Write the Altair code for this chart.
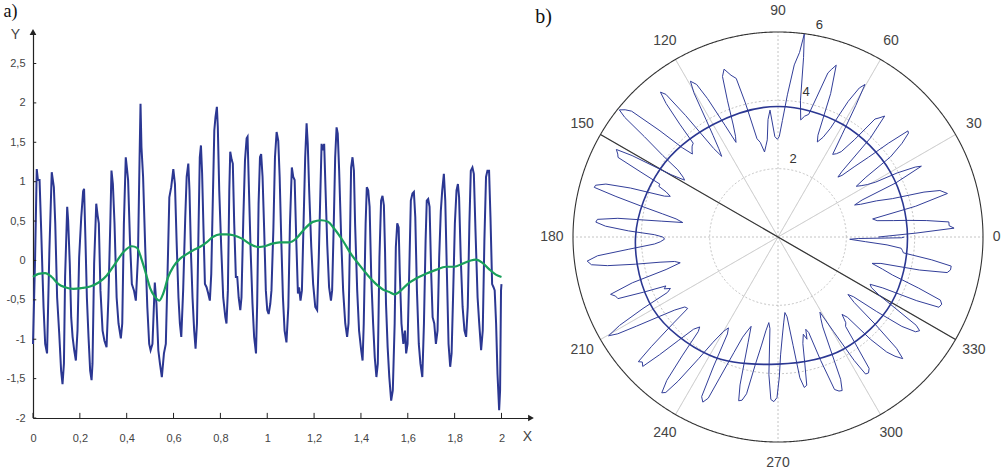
import altair as alt
import pandas as pd

# ---------------- data ----------------
SIG_X = [
    0.000, 0.009, 0.016, 0.021, 0.028, 0.035, 0.041, 0.045, 0.052, 0.060,
    0.070, 0.080, 0.089, 0.095, 0.103, 0.112, 0.120, 0.126, 0.132, 0.137,
    0.146, 0.150, 0.157, 0.163, 0.169, 0.176, 0.183, 0.190, 0.197, 0.206,
    0.214, 0.218, 0.224, 0.230, 0.237, 0.244, 0.250, 0.254, 0.261, 0.270,
    0.276, 0.281, 0.288, 0.297, 0.305, 0.314, 0.322, 0.330, 0.335, 0.341,
    0.348, 0.357, 0.365, 0.375, 0.381, 0.388, 0.396, 0.402, 0.406, 0.414,
    0.422, 0.431, 0.439, 0.448, 0.455, 0.459, 0.463, 0.470, 0.479, 0.488,
    0.496, 0.502, 0.510, 0.520, 0.527, 0.535, 0.542, 0.550, 0.559, 0.567,
    0.576, 0.582, 0.590, 0.599, 0.606, 0.613, 0.621, 0.627, 0.633, 0.641,
    0.650, 0.656, 0.663, 0.668, 0.675, 0.681, 0.688, 0.694, 0.700, 0.707,
    0.712, 0.717, 0.722, 0.728, 0.734, 0.741, 0.748, 0.755, 0.761, 0.767,
    0.774, 0.779, 0.785, 0.789, 0.795, 0.804, 0.812, 0.821, 0.826, 0.832,
    0.838, 0.842, 0.848, 0.853, 0.859, 0.866, 0.872, 0.878, 0.885, 0.890,
    0.898, 0.905, 0.912, 0.916, 0.922, 0.929, 0.937, 0.944, 0.952, 0.957,
    0.963, 0.969, 0.974, 0.980, 0.987, 0.994, 1.000, 1.006, 1.013, 1.018,
    1.026, 1.033, 1.040, 1.047, 1.053, 1.060, 1.067, 1.074, 1.082, 1.090,
    1.097, 1.105, 1.111, 1.117, 1.124, 1.131, 1.136, 1.142, 1.148, 1.155,
    1.162, 1.168, 1.173, 1.179, 1.188, 1.196, 1.205, 1.213, 1.220, 1.227,
    1.232, 1.237, 1.243, 1.249, 1.256, 1.264, 1.272, 1.277, 1.284, 1.290,
    1.296, 1.301, 1.307, 1.316, 1.324, 1.333, 1.341, 1.347, 1.353, 1.358,
    1.364, 1.370, 1.375, 1.384, 1.392, 1.401, 1.407, 1.412, 1.420, 1.425,
    1.431, 1.437, 1.444, 1.452, 1.459, 1.466, 1.472, 1.479, 1.486, 1.492,
    1.498, 1.503, 1.507, 1.514, 1.521, 1.529, 1.536, 1.544, 1.549, 1.555,
    1.561, 1.566, 1.573, 1.581, 1.588, 1.593, 1.599, 1.606, 1.613, 1.620,
    1.626, 1.632, 1.639, 1.647, 1.654, 1.662, 1.669, 1.676, 1.681, 1.687,
    1.693, 1.700, 1.706, 1.713, 1.720, 1.727, 1.734, 1.741, 1.747, 1.754,
    1.760, 1.767, 1.774, 1.781, 1.787, 1.794, 1.801, 1.808, 1.814, 1.819,
    1.826, 1.834, 1.842, 1.849, 1.856, 1.863, 1.869, 1.876, 1.882, 1.889,
    1.898, 1.905, 1.913, 1.920, 1.927, 1.934, 1.940, 1.947, 1.953, 1.960,
    1.966, 1.971, 1.977, 1.983, 1.990, 1.994, 1.998, 2.000,
]
SIG_Y = [
    -1.06, 0.04, 1.16, 1.02, 1.02, 0.38, -0.21, -0.59, -1.06, -1.18,
    0.13, 1.12, 0.93, 0.47, -0.47, -0.93, -1.40, -1.57, -1.31, -0.21,
    0.68, 0.51, -0.04, -0.72, -0.97, -1.14, -1.27, -0.89, 0.04, 0.55,
    0.88, 0.91, 0.25, -0.47, -0.97, -1.40, -1.52, -1.31, -0.04, 0.72,
    0.57, 0.47, -0.38, -0.89, -1.02, -1.10, -0.47, 0.47, 1.14, 0.97,
    0.47, -0.47, -0.80, -0.99, -0.80, 0.47, 1.31, 1.14, 1.02, 0.25,
    -0.30, -0.38, -0.51, 0.04, 1.31, 1.99, 1.44, 1.06, 0.17, -0.59,
    -1.06, -1.14, -1.06, -0.28, -0.55, -1.14, -1.31, -1.48, -1.18, -1.06,
    0.04, 0.80, 0.93, 1.16, 0.97, 0.25, -0.47, -0.80, -0.97, -0.38,
    0.55, 1.06, 1.23, 0.89, 0.04, -0.47, -0.89, -1.12, -0.80, 0.47,
    1.31, 1.46, 1.10, 0.38, -0.30, -0.34, -0.42, -0.51, -0.17, 0.68,
    1.65, 1.82, 1.95, 1.69, 0.89, 0.13, -0.47, -0.72, -0.80, -0.38,
    0.89, 1.38, 1.28, 1.23, 0.47, -0.21, -0.21, -0.47, -0.63, -0.47,
    0.55, 1.27, 1.55, 1.57, 0.89, 0.13, -0.55, -0.97, -1.18, -0.55,
    0.72, 1.31, 1.35, 1.06, 0.38, -0.38, -0.63, -0.68, -0.55, -0.38,
    0.38, 1.31, 1.63, 1.52, 1.06, 0.25, -0.47, -0.89, -1.04, -0.59,
    0.47, 1.18, 1.06, 1.02, 0.25, -0.42, -0.34, -0.51, -0.38, 0.47,
    1.31, 1.74, 1.48, 0.89, 0.17, -0.30, -0.59, -0.63, 0.04, 0.89,
    1.48, 1.40, 1.48, 0.89, 0.21, -0.34, -0.51, -0.38, 0.47, 1.31,
    1.69, 1.61, 1.14, 0.25, -0.38, -0.80, -0.97, -0.80, 0.25, 1.18,
    1.31, 1.14, 0.47, -0.38, -0.89, -1.14, -1.27, -0.80, 0.47, 0.93,
    0.89, 0.68, -0.21, -0.80, -1.23, -1.48, -1.31, 0.04, 0.76, 0.82,
    0.70, 0.10, -0.55, -1.10, -1.48, -1.78, -1.65, -0.80, 0.17, 0.47,
    0.42, -0.17, -0.80, -1.06, -0.89, -1.18, -1.06, -0.17, 0.76, 0.85,
    0.87, 0.55, -0.38, -1.06, -1.31, -1.48, -0.80, 0.25, 0.76, 0.78,
    0.68, -0.17, -0.72, -0.80, -1.06, -0.89, 0.04, 0.63, 0.89, 1.10,
    0.76, -0.17, -1.06, -1.35, -1.18, -0.38, 0.47, 0.89, 0.97, 0.80,
    0.04, -0.59, -0.89, -0.97, -0.59, 0.47, 1.14, 1.18, 1.10, 0.38,
    -0.47, -0.80, -1.14, -0.89, 0.25, 1.06, 1.14, 1.14, 0.55, -0.30,
    -0.34, -0.38, -0.80, -1.44, -1.90, -1.65, -0.38, -0.30,
]
TREND_X = [
    0.000, 0.023, 0.052, 0.080, 0.109, 0.137, 0.173, 0.208, 0.244, 0.280,
    0.315, 0.351, 0.387, 0.422, 0.444, 0.465, 0.486, 0.500, 0.520, 0.539,
    0.556, 0.577, 0.599, 0.627, 0.656, 0.684, 0.712, 0.741, 0.769, 0.798,
    0.826, 0.855, 0.890, 0.926, 0.962, 0.990, 1.017, 1.053, 1.095, 1.124,
    1.159, 1.195, 1.230, 1.259, 1.287, 1.323, 1.358, 1.394, 1.430, 1.465,
    1.501, 1.521, 1.542, 1.571, 1.599, 1.635, 1.677, 1.720, 1.763, 1.798,
    1.834, 1.869, 1.890, 1.919, 1.947, 1.976, 2.000,
]
TREND_Y = [
    -0.21, -0.17, -0.16, -0.21, -0.30, -0.34, -0.36, -0.35, -0.33, -0.28,
    -0.19, -0.04, 0.11, 0.18, 0.16, 0.00, -0.21, -0.35, -0.46, -0.51,
    -0.42, -0.21, -0.08, 0.02, 0.08, 0.13, 0.17, 0.23, 0.30, 0.33,
    0.33, 0.32, 0.28, 0.21, 0.17, 0.18, 0.21, 0.23, 0.23, 0.28,
    0.40, 0.49, 0.51, 0.49, 0.40, 0.25, 0.08, -0.06, -0.19, -0.30,
    -0.38, -0.40, -0.43, -0.38, -0.30, -0.23, -0.17, -0.12, -0.08, -0.08,
    -0.04, 0.00, 0.01, -0.03, -0.11, -0.18, -0.21,
]
# mean (fitted) contour of the polar panel, read every 30 degrees
MEAN_ANGLE = [0, 30, 60, 90, 120, 150, 180, 210, 240, 270, 300, 330]
MEAN_R = [3.79, 3.80, 3.80, 3.82, 3.80, 3.98, 4.17, 4.22, 4.00, 3.72, 3.80, 3.84]

X_TICKS = [0, 0.2, 0.4, 0.6, 0.8, 1, 1.2, 1.4, 1.6, 1.8, 2]
Y_TICKS = [-2, -1.5, -1, -0.5, 0, 0.5, 1, 1.5, 2, 2.5]
ANGLE_TICKS = [0, 30, 60, 90, 120, 150, 180, 210, 240, 270, 300, 330]
RADIAL_TICKS = [2, 4, 6]
R_OFFSET = 4.0          # polar radius = R_OFFSET + signal
DIAMETER_ANGLE = 150    # the black diameter line

assert len(SIG_X) == len(SIG_Y) and len(TREND_X) == len(TREND_Y)

# ---------------- styles ----------------
BLUE = "#2b3792"
PBLUE = "#323e99"
GREEN = "#19a05b"
AXIS = "#222222"
LAB = "#444444"
GRID = "#c4c4c4"
SANS = "Liberation Sans"
SERIF = "Liberation Serif"

X_DOMAIN = [0, 2.126]
Y_DOMAIN = [-2, 2.9]
R_MAX = RADIAL_TICKS[-1]

sig = pd.DataFrame({"i": range(len(SIG_X)), "x": SIG_X, "y": SIG_Y})
trend = pd.DataFrame({"i": range(len(TREND_X)), "x": TREND_X, "y": TREND_Y})
mean = pd.DataFrame({"a": MEAN_ANGLE, "r": MEAN_R})

xs = alt.Scale(domain=X_DOMAIN, nice=False, zero=False)
ys = alt.Scale(domain=Y_DOMAIN, nice=False, zero=False)
comma = "replace(replace(format(datum.value, '~g'), '.', ','), '\u2212', '-')"
x_axis = alt.Axis(values=X_TICKS, labelExpr=comma, ticks=False, grid=False,
                  domainColor=AXIS, domainWidth=1.2, labelFont=SANS,
                  labelFontSize=11, labelColor=LAB, labelPadding=14,
                  labelFlush=False, labelOverlap=False, title=None)
y_axis = alt.Axis(values=Y_TICKS, labelExpr=comma, ticks=False, grid=False,
                  domainColor=AXIS, domainWidth=1.2, labelFont=SANS,
                  labelFontSize=11, labelColor=LAB, labelPadding=8,
                  labelFlush=False, labelOverlap=False, title=None)


def X(f):
    return alt.X(f, type="quantitative", scale=xs, axis=x_axis)


def Y(f):
    return alt.Y(f, type="quantitative", scale=ys, axis=y_axis)


blue_line = alt.Chart(sig).mark_line(color=BLUE, strokeWidth=2).encode(
    x=X("x"), y=Y("y"), order=alt.Order("i:Q"))
green_line = alt.Chart(trend).mark_line(
    color=GREEN, strokeWidth=2.2, interpolate="monotone").encode(
    x=X("x"), y=Y("y"), order=alt.Order("i:Q"))

xticks = alt.Chart(pd.DataFrame({"t": X_TICKS})).transform_calculate(
    y0=f"{Y_DOMAIN[0]}", y1=f"{Y_DOMAIN[0]} + 0.065"
).mark_rule(color=AXIS, strokeWidth=1).encode(x=X("t"), y=Y("y0"), y2="y1:Q")
yticks = alt.Chart(pd.DataFrame({"t": Y_TICKS})).transform_calculate(
    x0="0", x1="0.014"
).mark_rule(color=AXIS, strokeWidth=1).encode(x=X("x0"), x2="x1:Q", y=Y("t"))

arrow_x = alt.Chart(pd.DataFrame({"x": [X_DOMAIN[1]], "y": [Y_DOMAIN[0]]})).mark_point(
    shape="triangle-right", filled=True, size=45, color=AXIS, opacity=1
).encode(x=X("x"), y=Y("y"))
arrow_y = alt.Chart(pd.DataFrame({"x": [0], "y": [Y_DOMAIN[1]]})).mark_point(
    shape="triangle-up", filled=True, size=45, color=AXIS, opacity=1
).encode(x=X("x"), y=Y("y"))

left_text = pd.DataFrame({
    "x": [-0.075, 2.111],
    "y": [2.86, -2.24],
    "t": ["Y", "X"],
})
axis_names = alt.Chart(left_text).mark_text(
    font=SANS, fontSize=14, color=LAB).encode(x=X("x"), y=Y("y"), text="t:N")
panel_a = alt.Chart(pd.DataFrame({"x": [-0.126], "y": [3.267], "t": ["a)"]})).mark_text(
    font=SERIF, fontSize=18, color="#111", align="left", baseline="top"
).encode(x=X("x"), y=Y("y"), text="t:N")

left = alt.layer(
    blue_line, green_line, xticks, yticks, arrow_x, arrow_y, axis_names, panel_a
).properties(width=498, height=386)

# ---------------- polar panel ----------------
ps = alt.Scale(domain=[-R_MAX, R_MAX], nice=False, zero=False)


def PX(f):
    return alt.X(f, type="quantitative", scale=ps, axis=None)


def PY(f):
    return alt.Y(f, type="quantitative", scale=ps, axis=None)


layers = []
spokes = alt.Chart(pd.DataFrame({"a": ANGLE_TICKS})).transform_calculate(
    ox="0", oy="0",
    ex=f"{R_MAX}*cos(datum.a*PI/180)", ey=f"{R_MAX}*sin(datum.a*PI/180)",
).mark_rule(color=GRID, strokeWidth=1).encode(
    x=PX("ox"), y=PY("oy"), x2="ex:Q", y2="ey:Q",
    strokeDash=alt.condition("datum.a % 90 == 0", alt.value([2, 2]), alt.value([1, 0])),
)
layers.append(spokes)

for R in RADIAL_TICKS:
    outer = R == R_MAX
    layers.append(
        alt.Chart(alt.sequence(0, 361, 1, as_="deg")).transform_calculate(
            cx=f"{R}*cos(datum.deg*PI/180)", cy=f"{R}*sin(datum.deg*PI/180)"
        ).mark_line(
            color="#333333" if outer else GRID,
            strokeWidth=1.1 if outer else 1,
            strokeDash=[1, 0] if outer else [2, 2],
        ).encode(x=PX("cx"), y=PY("cy"), order=alt.Order("deg:Q"))
    )

diameter = alt.Chart(pd.DataFrame({"a": [DIAMETER_ANGLE]})).transform_calculate(
    sx=f"{R_MAX}*cos(datum.a*PI/180)", sy=f"{R_MAX}*sin(datum.a*PI/180)",
    ex=f"-{R_MAX}*cos(datum.a*PI/180)", ey=f"-{R_MAX}*sin(datum.a*PI/180)",
).mark_rule(color="#333333", strokeWidth=1.2).encode(
    x=PX("sx"), y=PY("sy"), x2="ex:Q", y2="ey:Q")
layers.append(diameter)

polar_sig = alt.Chart(sig).transform_calculate(
    r=f"{R_OFFSET} + datum.y", t="datum.x*PI"
).transform_calculate(
    px="datum.r*cos(datum.t)", py="datum.r*sin(datum.t)"
).mark_line(color=PBLUE, strokeWidth=1).encode(
    x=PX("px"), y=PY("py"), order=alt.Order("i:Q"))
layers.append(polar_sig)

polar_mean = alt.Chart(mean).transform_calculate(
    px="datum.r*cos(datum.a*PI/180)", py="datum.r*sin(datum.a*PI/180)"
).mark_line(color=BLUE, strokeWidth=1.6, interpolate="cardinal-closed").encode(
    x=PX("px"), y=PY("py"), order=alt.Order("a:Q"))
layers.append(polar_mean)

angle_labels = alt.Chart(pd.DataFrame({"a": ANGLE_TICKS})).transform_calculate(
    rr="datum.a == 0 ? 6.4 : 6.62"
).transform_calculate(
    lx="datum.rr*cos(datum.a*PI/180)", ly="datum.rr*sin(datum.a*PI/180)"
).mark_text(font=SANS, fontSize=14, color=LAB).encode(
    x=PX("lx"), y=PY("ly"), text=alt.Text("a:Q", format="d"))
layers.append(angle_labels)

radial_labels = alt.Chart(pd.DataFrame({"v": RADIAL_TICKS})).transform_calculate(
    lx="(datum.v + 0.33)*cos(79*PI/180)", ly="(datum.v + 0.33)*sin(79*PI/180)"
).mark_text(font=SANS, fontSize=13, color="#333333").encode(
    x=PX("lx"), y=PY("ly"), text=alt.Text("v:Q", format="d"))
layers.append(radial_labels)

panel_b = alt.Chart(pd.DataFrame({"x": [-6.86], "y": [6.44], "t": ["b)"]})).mark_text(
    font=SERIF, fontSize=20, color="#111").encode(x=PX("x"), y=PY("y"), text="t:N")
layers.append(panel_b)

right = alt.layer(*layers).properties(width=410, height=410)

chart = alt.hconcat(left, right, spacing=42, bounds="flush").properties(
    padding={"left": 3, "top": 3, "right": 2, "bottom": 2},
    background="white",
).configure_view(stroke=None)

chart.save("out.html", embed_options={"renderer": "svg", "actions": False})
